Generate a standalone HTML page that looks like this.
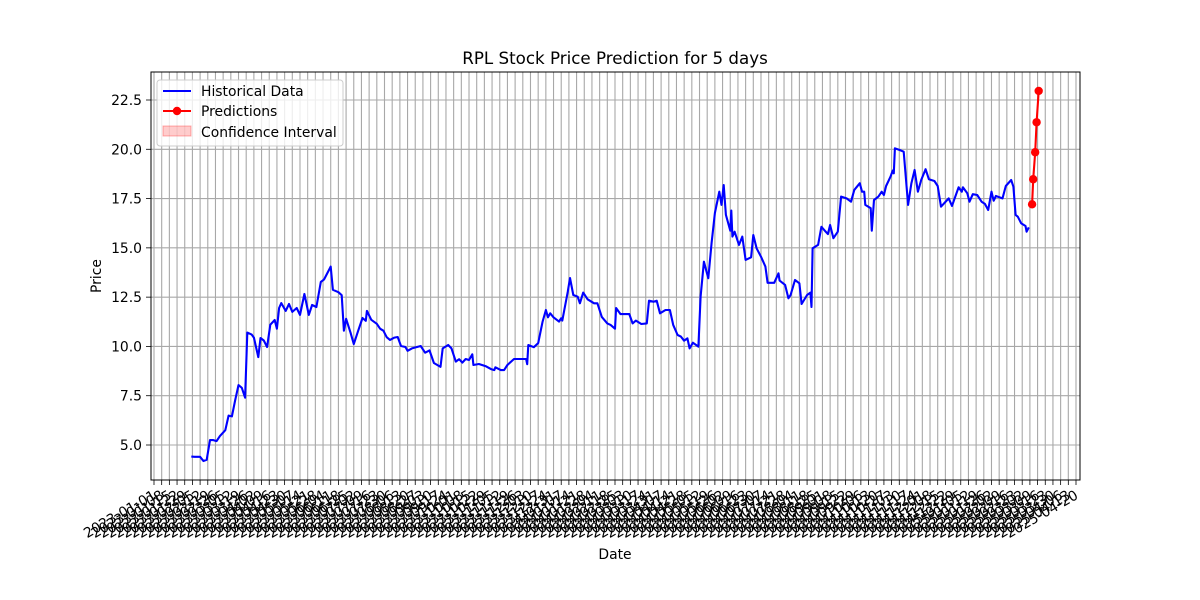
<!DOCTYPE html>
<html><head><meta charset="utf-8"><style>
html,body{margin:0;padding:0;background:#fff;}
svg{display:block;font-family:"DejaVu Sans","Liberation Sans",sans-serif;}
</style></head><body>
<svg id="chart" width="1200" height="600" viewBox="0 0 1200 600" xmlns="http://www.w3.org/2000/svg">
<rect width="1200" height="600" fill="#fff"/>
<g id="grid"></g>
<g id="xticks"></g>
<g id="yticks"></g>
<g id="series"></g>
<rect x="151" y="72" width="929" height="408" fill="none" stroke="#000" stroke-width="1"/>
<text x="615" y="64" text-anchor="middle" font-size="16.7">RPL Stock Price Prediction for 5 days</text>
<text x="615" y="559" text-anchor="middle" font-size="13.9">Date</text>
<text x="101" y="276" text-anchor="middle" font-size="13.9" transform="rotate(-90 101 276)">Price</text>
<g>
<rect x="157" y="80" width="186" height="66" rx="3" fill="#fff" fill-opacity="0.8" stroke="#ccc"/>
<g>
<line x1="163" y1="91" x2="191" y2="91" stroke="#0000ff" stroke-width="2"/>
<text x="201" y="96" font-size="13.9">Historical Data</text></g>
<g>
<line x1="163" y1="111" x2="191" y2="111" stroke="#ff0000" stroke-width="2"/>
<circle cx="177" cy="111" r="4.2" fill="#ff0000"/>
<text x="201" y="116" font-size="13.9">Predictions</text></g>
<g>
<rect x="163" y="126" width="28" height="10" fill="#ff0000" fill-opacity="0.2" stroke="#ff0000" stroke-opacity="0.3"/>
<text x="201" y="137" font-size="13.9">Confidence Interval</text></g>
</g>
</svg>
<script>
// Historical data: day offset from 2023-01-01, and closing price
const histDays = [34,37,42,45,48,51,54,57,60,65,68,71,74,77,80,83,85,89,91,95,97,100,103,106,110,112,114,116,120,123,126,130,133,137,141,144,148,152,155,161,163,168,171,173,175,179,182,186,190,193,194,198,203,206,209,212,215,219,222,225,229,231,235,243,247,251,255,261,263,268,271,275,278,281,284,287,290,291,296,302,307,310,311,316,319,322,328,334,339,340,341,346,350,354,357,359,361,364,369,371,372,377,379,382,386,388,391,395,401,404,408,413,416,420,421,425,433,436,439,444,449,451,455,458,461,466,470,473,477,480,483,484,486,488,491,496,498,501,505,508,511,515,517,519,521,525,526,527,529,533,536,539,544,546,549,553,557,559,561,565,569,570,575,578,580,584,588,590,595,598,599,600,605,608,612,614,616,619,623,626,631,635,638,643,645,647,648,653,654,656,660,663,665,667,671,673,674,675,679,683,687,690,693,696,699,703,706,711,714,717,724,727,733,736,737,741,743,746,750,754,757,760,763,765,767,773,776,781,783,785,787,790,794,795,797];
const histPrices = [4.41,4.40,4.40,4.19,4.25,5.25,5.25,5.20,5.45,5.75,6.49,6.45,7.28,8.04,7.90,7.40,10.70,10.60,10.45,9.46,10.43,10.30,9.97,11.10,11.34,10.90,11.95,12.20,11.80,12.15,11.75,11.95,11.60,12.66,11.60,12.10,12.00,13.27,13.40,14.05,12.87,12.75,12.60,10.80,11.40,10.70,10.12,10.80,11.44,11.30,11.80,11.35,11.15,10.90,10.80,10.47,10.33,10.45,10.48,10.02,9.97,9.78,9.90,10.02,9.68,9.80,9.16,8.96,9.90,10.07,9.90,9.23,9.35,9.18,9.36,9.31,9.60,9.06,9.11,9.00,8.85,8.80,8.94,8.80,8.80,9.06,9.36,9.36,9.36,9.10,10.07,9.96,10.17,11.26,11.85,11.48,11.68,11.48,11.26,11.43,11.31,12.78,13.47,12.61,12.52,12.19,12.73,12.39,12.19,12.19,11.50,11.17,11.09,10.90,11.95,11.64,11.64,11.17,11.31,11.14,11.17,12.32,12.27,12.32,11.68,11.85,11.85,11.09,10.58,10.50,10.29,10.33,10.41,9.90,10.19,9.99,12.52,14.30,13.46,15.25,16.77,17.85,17.18,18.19,16.67,15.87,16.89,15.57,15.82,15.15,15.57,14.39,14.52,15.65,14.98,14.55,14.05,13.23,13.23,13.23,13.71,13.34,13.12,12.44,12.61,13.37,13.20,12.15,12.61,12.73,12.00,14.98,15.15,16.07,15.82,15.70,16.16,15.49,15.82,17.60,17.51,17.34,17.94,18.28,17.85,17.85,17.18,17.01,15.87,17.43,17.60,17.85,17.68,18.14,18.61,18.92,18.78,20.05,19.97,19.88,17.18,18.28,18.95,17.85,18.44,18.99,18.48,18.39,18.14,17.09,17.51,17.13,18.07,17.85,18.07,17.77,17.34,17.72,17.68,17.34,17.23,16.92,17.85,17.39,17.63,17.51,18.14,18.44,18.10,16.67,16.58,16.25,16.11,15.82,16.04];
// Predictions
const predDays = [800,801,802.8,804.1,806];
const predPrices = [17.21,18.48,19.85,21.37,22.96];
// Axis ticks
const yTickValues = [5.0,7.5,10.0,12.5,15.0,17.5,20.0,22.5];
const yTickLabels = ["5.0","7.5","10.0","12.5","15.0","17.5","20.0","22.5"];
const xTickStart = "2023-01-01";
const xTickCount = 121;
const xTickStepDays = 7;

const NS = "http://www.w3.org/2000/svg";
const X0 = 154, X1 = 1076, DMAX = 840;
function xScale(d){ return X0 + d * (X1 - X0) / DMAX; }
function yScale(v){ return 445 - (v - 5) * (445 - 100) / 17.5; }
function mk(tag, attrs, parent){ const e = document.createElementNS(NS, tag); for (const k in attrs) e.setAttribute(k, attrs[k]); parent.appendChild(e); return e; }

const grid = document.getElementById('grid');
const xt = document.getElementById('xticks');
const yt = document.getElementById('yticks');
const ser = document.getElementById('series');

const start = new Date(xTickStart + "T00:00:00Z");
for (let i = 0; i < xTickCount; i++) {
  const d = i * xTickStepDays;
  const x = xScale(d);
  const gl = mk('line', {x1:x, y1:72, x2:x, y2:480, stroke:'#a8a8a8', 'stroke-width':1.1}, grid);
  
  
  const tk = mk('line', {x1:x, y1:480, x2:x, y2:485, stroke:'#000', 'stroke-width':0.8}, xt);
  
  
  const dt = new Date(start.getTime() + d * 86400000);
  const lbl = dt.toISOString().slice(0, 10);
  const tx = x + 3, ty = 498;
  const t = mk('text', {x:tx, y:ty, 'text-anchor':'end', 'font-size':13.9, transform:`rotate(-30 ${tx} ${ty})`}, xt);
  t.textContent = lbl;
  
  
}
yTickValues.forEach((v, i) => {
  const y = yScale(v);
  const gl = mk('line', {x1:151, y1:y, x2:1080, y2:y, stroke:'#a8a8a8', 'stroke-width':1.1}, grid);
  
  
  const tk = mk('line', {x1:146, y1:y, x2:151, y2:y, stroke:'#000', 'stroke-width':0.8}, yt);
  
  
  const t = mk('text', {x:142, y:y + 5, 'text-anchor':'end', 'font-size':13.9}, yt);
  t.textContent = yTickLabels[i];
  
  
});

const hp = histDays.map((d, i) => `${xScale(d).toFixed(1)},${yScale(histPrices[i]).toFixed(1)}`).join(' ');
const hl = mk('polyline', {points:hp, fill:'none', stroke:'#0000ff', 'stroke-width':2.1, 'stroke-linejoin':'round'}, ser);



const pp = predDays.map((d, i) => `${xScale(d).toFixed(1)},${yScale(predPrices[i]).toFixed(1)}`).join(' ');
const pl = mk('polyline', {points:pp, fill:'none', stroke:'#ff0000', 'stroke-width':2.1}, ser);


predDays.forEach((d, i) => {
  const c = mk('circle', {cx:xScale(d), cy:yScale(predPrices[i]), r:4.2, fill:'#ff0000'}, ser);
  
  
});
</script>
</body></html>
